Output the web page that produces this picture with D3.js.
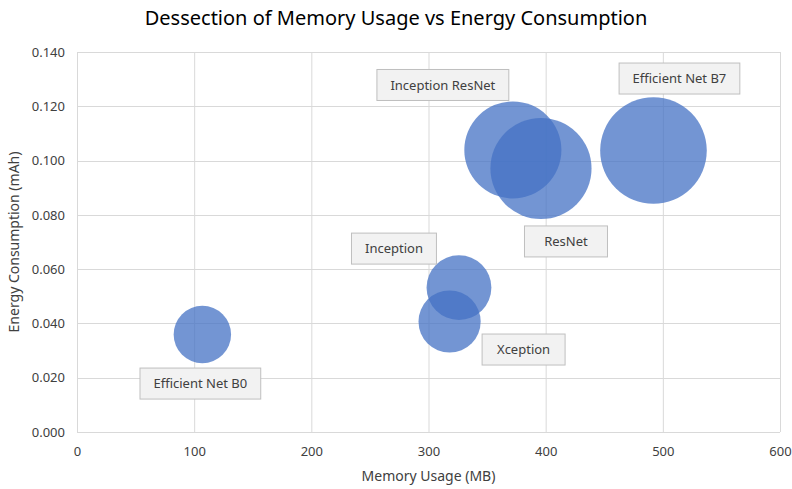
<!DOCTYPE html>
<html>
<head>
<meta charset="utf-8">
<script src="https://cdn.jsdelivr.net/npm/d3@7"></script>
<style>
  body { margin: 0; background: #fff; }
  text { font-family: "Noto Sans", "Open Sans", sans-serif; fill: #404040; }
</style>
</head>
<body>
<div id="chart"></div>
<script>
// data
var models = ["Efficient Net B0", "Inception", "Xception", "Inception ResNet", "ResNet", "Efficient Net B7"];
var memoryUsage = [107, 326, 318, 372, 396, 492];
var energyUse = [0.0359, 0.0532, 0.0407, 0.1039, 0.0971, 0.1037];
var bubbleSize = [29, 37, 34, 83, 90, 100];
var xTicks = [0, 100, 200, 300, 400, 500, 600];
var yTicks = [0, 0.02, 0.04, 0.06, 0.08, 0.1, 0.12, 0.14];

// label offsets from bubble centre (px)
var labelOffset = [[-2, 49], [-65, -39], [74, 28], [-70, -65], [25, 73], [26, -72]];

var width = 792, height = 489;
var margin = {top: 52, right: 12, bottom: 57, left: 77};

var svg = d3.select("#chart").append("svg")
    .attr("width", width)
    .attr("height", height);

var x = d3.scaleLinear().domain([0, 600]).range([margin.left, width - margin.right]);
var y = d3.scaleLinear().domain([0, 0.14]).range([height - margin.bottom, margin.top]);
var r = d3.scaleSqrt().domain([0, 100]).range([0, 53.3]);

//gridlines
svg.append("g").selectAll("line").data(xTicks).enter().append("line")
    .attr("x1", function (d) { return x(d) + 0.5; }).attr("x2", function (d) { return x(d) + 0.5; })
    .attr("y1", y(0.14)).attr("y2", y(0))
    .attr("stroke", "#d9d9d9").attr("stroke-width", 1);
svg.append("g").selectAll("line").data(yTicks).enter().append("line")
    .attr("y1", function (d) { return Math.round(y(d)) + 0.5; }).attr("y2", function (d) { return Math.round(y(d)) + 0.5; })
    .attr("x1", x(0)).attr("x2", x(600))
    .attr("stroke", "#d9d9d9").attr("stroke-width", 1);

//axes, labels only
var xAxis = svg.append("g")
    .attr("transform", "translate(0," + (y(0) + 12) + ")")
    .call(d3.axisBottom(x).tickValues(xTicks).tickSize(0).tickFormat(d3.format("d")));
var yAxis = svg.append("g")
    .attr("transform", "translate(" + (x(0) - 9) + ",0)")
    .call(d3.axisLeft(y).tickValues(yTicks).tickSize(0).tickFormat(d3.format(".3f")));
[xAxis, yAxis].forEach(function (a) {
    a.select(".domain").remove();
    a.selectAll("text").attr("font-size", "13px").attr("fill", "#404040")
        .attr("font-family", "\"Noto Sans\", sans-serif");
});

//bubbles
svg.append("g").selectAll("circle").data(models).enter().append("circle")
    .attr("cx", function (d, i) { return x(memoryUsage[i]); })
    .attr("cy", function (d, i) { return y(energyUse[i]); })
    .attr("r", function (d, i) { return r(bubbleSize[i]); })
    .attr("fill", "#4472c4")
    .attr("fill-opacity", 0.75);

//data labels
models.forEach(function (name, i) {
    var cx = x(memoryUsage[i]) + labelOffset[i][0];
    var cy = y(energyUse[i]) + labelOffset[i][1];
    var g = svg.append("g");
    var box = g.append("rect");
    var t = g.append("text")
        .attr("x", cx).attr("y", cy)
        .attr("text-anchor", "middle")
        .attr("dy", "0.35em")
        .attr("font-size", "13px")
        .text(name);
    var w = Math.max(83, t.node().getComputedTextLength() + 27);
    box.attr("x", cx - w / 2).attr("y", cy - 15.5)
        .attr("width", w).attr("height", 31)
        .attr("fill", "#f2f2f2")
        .attr("stroke", "#bfbfbf")
        .attr("stroke-width", 1);
});

//title
svg.append("text")
    .attr("x", 396).attr("y", 25)
    .attr("text-anchor", "middle")
    .attr("font-size", "20px")
    .style("fill", "#000")
    .text("Dessection of Memory Usage vs Energy Consumption");

//axis titles
svg.append("text")
    .attr("x", (x(0) + x(600)) / 2).attr("y", 481)
    .attr("text-anchor", "middle")
    .attr("font-size", "14px")
    .text("Memory Usage (MB)");
svg.append("text")
    .attr("transform", "translate(19," + (y(0.07)) + ") rotate(-90)")
    .attr("text-anchor", "middle")
    .attr("font-size", "14px")
    .text("Energy Consumption (mAh)");
</script>
</body>
</html>
